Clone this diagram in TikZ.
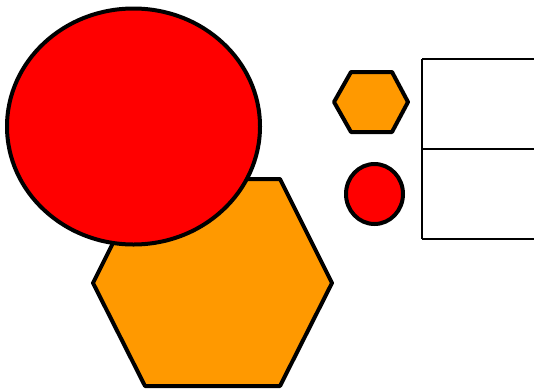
\documentclass[tikz,border=0pt]{standalone}
\usepackage{xcolor}
\definecolor{shapeRed}{HTML}{FF0000}
\definecolor{shapeOrange}{HTML}{FF9900}
\usepackage{tikz}
\usetikzlibrary{shapes.geometric}

\begin{document}
\begin{tikzpicture}[
		x=1pt, y=-1pt,
		blob/.style={
			draw=black,
			line width=4pt,
			line join=round
		},
		grid/.style={draw=black, line width=1.5pt}
		]
		
		\useasboundingbox (0,0) rectangle (534,389);
		
		% big hexagon, behind the ellipse
		\draw[blob, fill=shapeOrange] (93,283) -- (145,179) -- (280,179) -- (332,283) -- (280,386) -- (145,386) -- cycle;
		
		\node[blob, ellipse, fill=shapeRed, minimum width=253pt, minimum height=236pt, inner sep=0pt] (bigdot) at (133.5,126.5) {};
		
		% legend
		\draw[blob, fill=shapeOrange] (334,102) -- (351,72) -- (392,72) -- (408,102) -- (392,132) -- (351,132) -- cycle;
		\node[blob, ellipse, fill=shapeRed, minimum width=57pt, minimum height=60pt, inner sep=0pt] (smalldot) at (374.5,194) {};
		
		\coordinate (top) at (422,59);
		\coordinate (mid) at (422,149);
		\coordinate (bot) at (422,239);
		\draw[grid] (top) -- (bot);
		\draw[grid] (top) -- ++(112,0);
		\draw[grid] (mid) -- ++(112,0);
		\draw[grid] (bot) -- ++(112,0);
		
	\end{tikzpicture}
\end{document}
